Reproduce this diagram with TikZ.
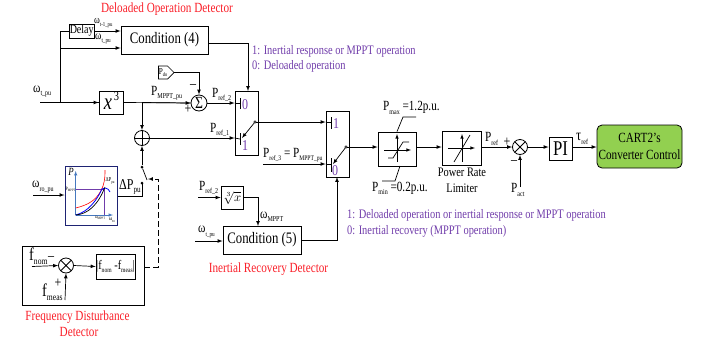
\documentclass[tikz,border=0pt]{standalone}
\usepackage{fontspec}
\setmainfont[FakeStretch=0.8]{Liberation Serif}
\usetikzlibrary{shapes.symbols}

\definecolor{detred}{RGB}{250,30,40}
\definecolor{modepurple}{RGB}{112,60,170}
\definecolor{cartgreen}{RGB}{146,208,80}
\definecolor{plotnavy}{RGB}{30,35,115}
\definecolor{axisblue}{RGB}{70,120,190}

\newcommand{\fsz}[1]{\fontsize{#1}{#1}\selectfont}
\newcommand{\subt}[3][7.5]{#2\raisebox{-0.5ex}{\fsz{#1}#3}}

\tikzset{
  sig/.style={-latex, line width=0.7pt},
  wire/.style={line width=0.7pt},
  blockbox/.style={draw, line width=0.8pt, inner sep=0pt},
  lbl/.style={inner sep=0pt, font=\fsz{14}},
  signlbl/.style={inner sep=0pt, font=\fsz{15}},
  detlbl/.style={inner sep=0pt, font=\fsz{14}, text=detred},
  modelbl/.style={inner sep=0pt, font=\fsz{13}, text=modepurple},
  digitlbl/.style={inner sep=0pt, font=\fsz{15}, text=modepurple},
  contact/.style={circle, draw, fill=white, inner sep=0pt, minimum size=2.5pt},
  junction/.style={circle, fill, inner sep=0pt, minimum size=3pt},
  crosscirc/.style={circle, draw, line width=0.8pt, fill=white, inner sep=0pt, minimum size=15pt,
    path picture={\draw (path picture bounding box.north west) -- (path picture bounding box.south east)
      (path picture bounding box.south west) -- (path picture bounding box.north east);}},
  pluscirc/.style={circle, draw, line width=0.8pt, fill=white, inner sep=0pt, minimum size=15pt,
    path picture={\draw (path picture bounding box.north) -- (path picture bounding box.south)
      (path picture bounding box.west) -- (path picture bounding box.east);}},
}

\begin{document}
\begin{tikzpicture}[x=1pt, y=-1pt]
  \useasboundingbox (0,0) rectangle (702,341);

  % detector boxes
  \node [blockbox, minimum width=24.6pt, minimum height=14pt, font=\fsz{12.5}] (delay) at (81.7,31) {Delay};
  \node [blockbox, minimum width=87pt, minimum height=28pt, font=\fsz{16}] (cond4) at (164.5,40) {Condition (4)};
  \node [blockbox, minimum width=24pt, minimum height=23pt] (cube) at (111,102.5) {};
  \node [inner sep=0pt, font=\fsz{23}\itshape] (cubex) at (108,104) {x};
  \node [inner sep=0pt, font=\fsz{13}] (cubeexp) at (116.5,96) {3};
  \node [blockbox, minimum width=78pt, minimum height=28pt, font=\fsz{16}] (cond5) at (262,240) {Condition (5)};
  \node [blockbox, minimum width=22pt, minimum height=23pt] (croot) at (232,197.5) {\scalebox{1.25}{$\sqrt[3]{x}$}};
  \node [signal, signal to=east, draw, line width=0.7pt, inner sep=0.3pt, minimum height=13pt, font=\fsz{9}] (pdo) at (163,72.5) {\subt[5.5]{P}{do}};

  \node [circle, draw, line width=0.8pt, inner sep=0pt, minimum size=16pt, font=\fsz{17}] (sumdo) at (199,103) {Σ};
  \node [pluscirc] (addp) at (142,138) {};

  % switches
  \node [blockbox, minimum width=23pt, minimum height=64pt] (swa) at (246.5,123) {};
  \node [blockbox, minimum width=23pt, minimum height=66pt] (swb) at (337.5,144) {};

  \coordinate (wtin) at (40,102.5);
  \coordinate (brdelay) at (60,102.5);
  \coordinate (brcube) at (142,102.5);
  \draw [wire] (wtin) -- (cube.west);
  \draw [sig] (brdelay) -- (cube.west);
  \draw [wire] (brdelay) |- (delay.west);
  \draw [sig] (delay.east) -- (delay.east -| cond4.west) ;
  \draw [sig] (60,48) -- (60,48 -| cond4.west);
  \draw [wire] (cube.east) -- (sumdo.west);
  \draw [sig] (brcube) -- (sumdo.west);
  \draw [sig] (brcube) -- (addp.north);
  \draw [sig] (pdo.east) -| (sumdo.north);
  \draw [sig] (cond4.east |- 0,43) -| (248,91);

  % first switch contents
  \coordinate (swaout) at (255,122);
  \coordinate (swanull) at (240,103);
  \coordinate (swaone) at (240,139);
  \draw [sig] (sumdo.east) -- (swa.west |- sumdo.east);
  \draw [wire] (swa.west |- sumdo.east) -- (swanull);
  \draw [sig] (addp.east) -- (swa.west |- addp.east);
  \draw [wire] (swa.west |- addp.east) -- (swaone);
  \draw [line width=1pt] (240,98) -- (240,109) (240,133) -- (240,145);
  \node [digitlbl] (swanulltxt) at (245,104.5) {0};
  \node [digitlbl] (swaonetxt) at (245,146) {1};
  \draw [sig] (swaout) -- (242,138);
  \node [contact] (swahub) at (swaout) {};
  \draw [sig] (swahub) -- (swb.west |- swahub);

  % second switch contents
  \coordinate (swbout) at (346,147);
  \coordinate (swbnull) at (331,164);
  \coordinate (swbone) at (331,122);
  \coordinate (pthree) at (263,164);
  \draw [sig] (pthree) -- (swb.west |- pthree);
  \draw [wire] (swb.west |- pthree) -- (swbnull);
  \draw [wire] (swb.west |- swbone) -- (swbone);
  \draw [line width=1pt] (331,117) -- (331,129) (331,158) -- (331,172);
  \node [digitlbl] (swboneitxt) at (336,124) {1};
  \node [digitlbl] (swbnulltxt) at (335,171) {0};
  \draw [sig] (swbout) -- (333,164);
  \node [contact] (swbhub) at (swbout) {};

  % limiter chain
  \node [blockbox, minimum width=38pt, minimum height=34pt] (limit) at (397,149) {};
  \node [blockbox, minimum width=39pt, minimum height=34pt] (rate) at (461.5,148) {};
  \node [crosscirc] (multp) at (520,147) {};
  \node [blockbox, minimum width=23pt, minimum height=23pt, font=\fsz{21}] (pictl) at (560.5,148.5) {PI};
  \node [draw, line width=0.8pt, rounded corners=5pt, fill=cartgreen, minimum width=85pt, minimum height=43pt, inner sep=0pt,
    align=center, font=\fsz{14}] (cart) at (639.5,146.5) {CART2's\\[3pt]Converter Control};
  \coordinate (pact) at (520,187);

  \draw [sig] (swbhub) -- (limit.west |- swbhub);
  \draw [sig] (limit.east |- swbhub) -- (rate.west |- swbhub);
  \draw [sig] (rate.east |- multp) -- (multp.west);
  \draw [sig] (multp.east) -- (pictl.west |- multp);
  \draw [sig] (pictl.east |- multp) -- (cart.west |- multp);
  \draw [sig] (pact) -- (multp.south);

  \draw [-latex, line width=0.6pt] (384,150) -- (411,150);
  \draw [-latex, line width=0.6pt] (397,162) -- (397,134);
  \draw [wire] (388,158) -- (393,158) -- (403,142) -- (409,142);
  \draw [wire] (limit.north) -- (403,117) -- (416,117);
  \draw [wire] (400,166) -- (395,181) -- (382,181);

  \draw [-latex, line width=0.6pt] (448,148) -- (475,148);
  \draw [-latex, line width=0.6pt] (462,162) -- (462,134);
  \draw [wire] (454,162) -- (470,135);

  % cube root and recovery detector
  \coordinate (prefin) at (198,197.5);
  \coordinate (wtrec) at (195,241);
  \draw [sig] (prefin) -- (croot.west);
  \draw [sig] (croot.east) -| (258,226);
  \draw [sig] (wtrec) -- (cond5.west |- wtrec);
  \draw [sig] (cond5.east) -| (337,177);

  % plot
  \node [draw=plotnavy, line width=1pt, fill=white, minimum width=52pt, minimum height=59pt, inner sep=0pt] (plotb) at (91,195.5) {};
  \coordinate (wroin) at (33,195);
  \coordinate (dpout) at (142,183);
  \draw [sig] (wroin) -- (plotb.west |- wroin);
  \draw [wire] (plotb.east |- 0,196) -- (142,196) -- (dpout);
  \draw [axisblue, -latex, line width=0.5pt] (75.7,215) -- (75.7,171);
  \draw [axisblue, -latex, line width=0.5pt] (75.7,215) -- (113,215);
  \draw [modepurple, line width=0.5pt] (75.7,189) -- (104,189) -- (104,215);
  \draw [red, line width=0.6pt] (75.7,208) .. controls (88,205) and (98,200) .. (103,186) .. controls (105,180) and (105,175) .. (105,170);
  \draw [blue, line width=0.8pt] (75.7,215) .. controls (88,212) and (97,200) .. (102,189) .. controls (104,188) and (108,187) .. (110,192);
  \draw [black, line width=0.7pt] (75.7,215) .. controls (88,214) and (98,205) .. (105,187);
  \node [inner sep=0pt, font=\fsz{11}\itshape] (plotp) at (71,172) {P};
  \node [inner sep=0pt, font=\fsz{5}] (plotpm) at (70.5,189) {\subt[3.5]{P}{MPPT}};
  \node [inner sep=0pt, font=\fsz{6}] (plotdp) at (110,181) {\subt[4]{ΔP}{pu}};
  \node [inner sep=0pt, font=\fsz{5}] (plotwm) at (100,218) {\subt[3.5]{ω}{MPPT}};
  \node [inner sep=0pt, font=\fsz{6}] (plotwr) at (112,220) {\subt[4]{ω}{ro}};

  % activation switch
  \node [junction] (dpa) at (142,167) {};
  \node [junction] (dpb) at (dpout) {};
  \coordinate (dparm) at (147,180);
  \draw [sig] (dpa) -- (addp.south);
  \draw [wire] (dpa) -- (dparm);

  % frequency detector
  \node [draw, line width=0.8pt, minimum width=122pt, minimum height=59pt, inner sep=0pt] (fbox) at (83,275.5) {};
  \node [crosscirc] (multf) at (66,265.5) {};
  \node [blockbox, minimum width=39pt, minimum height=25pt, font=\fsz{13}] (absf) at (115.5,266.5) {|\subt[7]{f}{nom} -\subt[7]{f}{meas}|};
  \coordinate (fnomin) at (32,266.5);
  \coordinate (fmeasin) at (65,300);
  \draw [sig] (fnomin) -- (multf.west);
  \draw [sig] (fmeasin) -- (multf.south);
  \draw [sig] (multf.east) -- (absf.west);
  \draw [-latex, line width=0.7pt, dash pattern=on 6pt off 3pt] (fbox.east |- 0,267) -| (158,179) -- (148,179);

  % labels
  \node [detlbl] (deltxt) at (167,9) {Deloaded Operation Detector};
  \node [detlbl] (rectxt) at (268.5,269) {Inertial Recovery Detector};
  \node [detlbl, align=center] (freqtxt) at (77.5,323.5) {Frequency Disturbance\\[2pt]\hspace*{3pt}Detector};
  \node [modelbl, anchor=west] (modea) at (252,51) {1: Inertial response or MPPT operation};
  \node [modelbl, anchor=west] (modeb) at (252,66) {0: Deloaded operation};
  \node [modelbl, anchor=west] (modec) at (347,215) {1: Deloaded operation or inertial response or MPPT operation};
  \node [modelbl, anchor=west] (moded) at (347,231) {0: Inertial recovery (MPPT operation)};

  \node [lbl, anchor=west] (lwt) at (33,91.5) {\subt{ω}{t\_pu}};
  \node [lbl, anchor=west, font=\fsz{11}] (lwtone) at (94,23) {\subt[6]{ω}{t-1\_pu}};
  \node [lbl, anchor=west, font=\fsz{12}] (lwtnow) at (95,39) {\subt[6.5]{ω}{t\_pu}};
  \node [lbl, anchor=west] (lpmppt) at (151,93) {\subt{P}{MPPT\_pu}};
  \node [lbl, anchor=west] (lpreftwo) at (212,95) {\subt{P}{ref\_2}};
  \node [lbl, anchor=west] (lprefone) at (210,130) {\subt{P}{ref\_1}};
  \node [signlbl] (lminus) at (193,87) {–};
  \node [signlbl] (lplus) at (188,109) {+};
  \node [lbl, anchor=west, font=\fsz{15}] (ldp) at (119,187) {\subt[9]{ΔP}{pu}};
  \node [lbl, anchor=west] (lwro) at (32,187) {\subt{ω}{ro\_pu}};
  \node [lbl, anchor=west, font=\fsz{18}] (lfnom) at (29,256) {\subt[9.5]{f}{nom}};
  \node [signlbl] (lfminus) at (51,259) {–};
  \node [signlbl] (lfplus) at (58,283) {+};
  \node [lbl, anchor=west, font=\fsz{18}] (lfmeas) at (42,292) {\subt[9.5]{f}{meas}};
  \node [lbl, anchor=west] (lpreftwob) at (199,188) {\subt{P}{ref\_2}};
  \node [lbl, anchor=west] (lwmppt) at (260,217) {\subt{ω}{MPPT}};
  \node [lbl, anchor=west] (lwtrec) at (198,232) {\subt[6.5]{ω}{t\_pu}};
  \node [lbl, anchor=west] (lpthree) at (263,155) {\subt[7]{P}{ref\_3} = \subt[7]{P}{MPPT\_pu}};
  \node [lbl, anchor=west] (lpmax) at (383,108) {\subt{P}{max} =1.2p.u.};
  \node [lbl, anchor=west] (lpmin) at (372,188) {\subt{P}{min} =0.2p.u.};
  \node [lbl, align=center, font=\fsz{13}] (lrate) at (462,180) {Power Rate\\[3pt]Limiter};
  \node [lbl, anchor=west] (lpref) at (485,139) {\subt{P}{ref}};
  \node [signlbl] (lmplus) at (507,142) {+};
  \node [signlbl] (lmminus) at (514,163) {–};
  \node [lbl, anchor=west] (lpact) at (511,190) {\subt{P}{act}};
  \node [lbl, anchor=west, font=\fsz{16}] (ltau) at (576,139) {\subt{τ}{ref}};
\end{tikzpicture}
\end{document}
